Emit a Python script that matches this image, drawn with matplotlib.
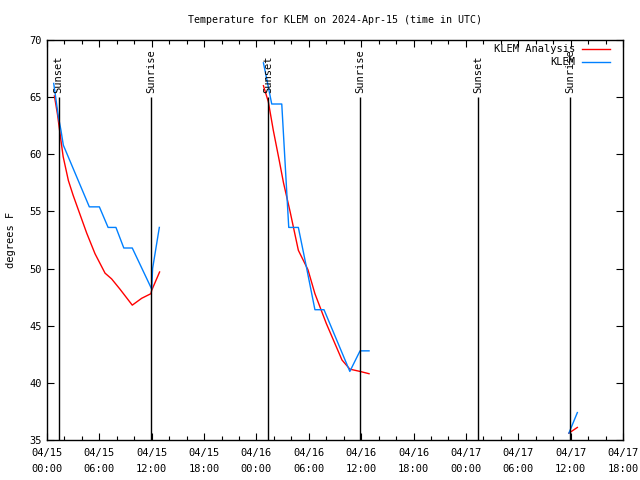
import numpy as np
import matplotlib
matplotlib.use("Agg")
import matplotlib.pyplot as plt
import matplotlib.dates as mdates
from matplotlib.ticker import MultipleLocator
from datetime import datetime

plt.rcParams['font.family'] = ['DejaVu Sans Mono']
plt.rcParams['font.size'] = 7

start = datetime(2024, 4, 15, 0, 0)

# hours after 04/15 00:00 UTC; nan breaks the line between days
analysis_hours = [0.85, 1.2, 1.6, 1.85, 2.45, 3.0, 4.55, 5.5, 6.65, 7.4, 8.36, 9.77, 10.85, 11.9, 12.0, 12.9,
                  np.nan,
                  24.8, 25.36, 25.93, 26.6, 27.1, 27.85, 28.8, 29.9, 30.7, 32.0, 33.8, 34.7, 35.87, 36.9,
                  np.nan,
                  59.8, 60.77]
analysis_temp = [65.1, 63.5, 61.2, 59.8, 57.7, 56.4, 53.1, 51.3, 49.6, 49.1, 48.2, 46.8, 47.4, 47.8, 48.1, 49.7,
                 np.nan,
                 66.0, 64.6, 62.1, 59.5, 57.5, 55.0, 51.6, 49.9, 47.8, 45.2, 42.0, 41.2, 41.0, 40.8,
                 np.nan,
                 35.6, 36.1]

obs_hours = [0.77, 1.3, 1.6, 1.87, 4.85, 6.0, 7.0, 7.9, 8.8, 9.77, 12.0, 12.1, 12.87,
             np.nan,
             24.8, 25.2, 25.75, 26.9, 27.7, 28.8, 29.76, 30.7, 31.74, 34.7, 35.87, 36.9,
             np.nan,
             59.8, 60.77]
obs_temp = [66.2, 63.3, 62.1, 60.8, 55.4, 55.4, 53.6, 53.6, 51.8, 51.8, 48.2, 50.0, 53.6,
            np.nan,
            68.0, 66.5, 64.4, 64.4, 53.6, 53.6, 50.0, 46.4, 46.4, 41.0, 42.8, 42.8,
            np.nan,
            35.6, 37.4]

sunset_hours = [1.33, 25.3, 49.4]
sunrise_hours = [11.93, 35.9, 59.9]

series_names = ['KLEM Analysis', 'KLEM']
series_colors = ['#ff0000', '#0080ff']

t0 = mdates.date2num(start)
def to_dates(hours):
    return t0 + np.array(hours, dtype=float) / 24.0

fig = plt.figure(figsize=(6.4, 4.8), dpi=100)
ax = fig.add_axes([47 / 640, 40 / 480, 576 / 640, 400 / 480])

ax.plot(to_dates(analysis_hours), analysis_temp, color=series_colors[0], lw=1)
ax.plot(to_dates(obs_hours), obs_temp, color=series_colors[1], lw=1)

for hours, name in [(sunset_hours, 'Sunset'), (sunrise_hours, 'Sunrise')]:
    xs = to_dates(hours)
    ax.vlines(xs, 35, 65, color='black', lw=1)
    for x in xs:
        ax.text(x, 65.4, name, rotation=90, ha='center', va='bottom', fontsize=7.5)

ax.set_xlim(t0, t0 + 66 / 24.0)
ax.set_ylim(35, 70)
ax.xaxis.set_major_locator(mdates.HourLocator(byhour=[0, 6, 12, 18]))
ax.xaxis.set_minor_locator(mdates.HourLocator(byhour=range(0, 24, 2)))
ax.xaxis.set_major_formatter(mdates.DateFormatter('%m/%d\n%H:%M'))
ax.yaxis.set_major_locator(MultipleLocator(5))
ax.tick_params(which='both', direction='in', top=True, right=True, labelsize=7.5)
ax.tick_params(which='major', length=5, width=0.8)
ax.tick_params(which='minor', length=3, width=0.8)
ax.tick_params(axis='x', pad=6)
plt.setp(ax.get_xticklabels(), linespacing=1.7)
for s in ax.spines.values():
    s.set_linewidth(1)

ax.set_ylabel('degrees F', fontsize=7.5, labelpad=10)
ax.set_title('Temperature for KLEM on 2024-Apr-15 (time in UTC)', fontsize=7.2, pad=12)

# gnuplot style key: right aligned text, sample line on the right
for i, (name, col) in enumerate(zip(series_names, series_colors)):
    ky = 0.9775 - i * 0.0325
    ax.text(0.9167, ky, name, transform=ax.transAxes, ha='right', va='center', fontsize=7.5)
    ax.plot([0.9288, 0.9774], [ky, ky], transform=ax.transAxes, color=col, lw=1)

fig.savefig('out.png', dpi=100)
